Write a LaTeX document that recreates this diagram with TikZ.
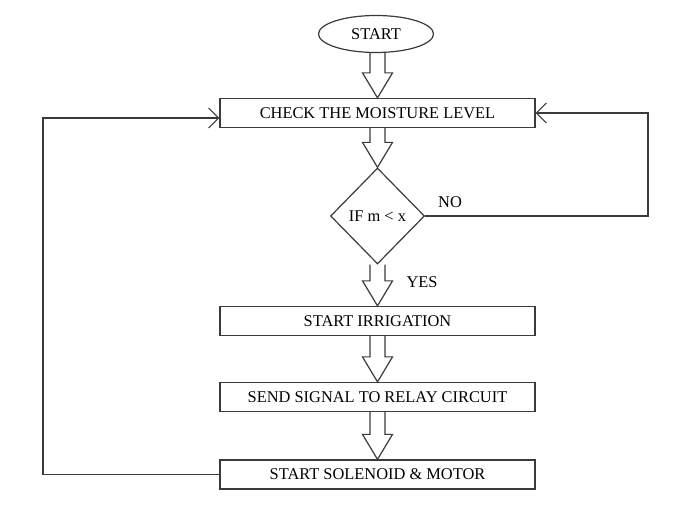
\documentclass[tikz,border=0pt]{standalone}
\usepackage{fontspec}
\setmainfont{Liberation Serif}
\usetikzlibrary{shapes.geometric,arrows.meta,calc}
\definecolor{ln}{HTML}{3A3A3A}
\tikzset{
  line/.style={draw=ln,line width=1.2pt},
  txt/.style={font=\fontsize{16.4}{18}\selectfont},
  box/.style={line,txt,rectangle,minimum width=315pt,minimum height=29pt,inner sep=0pt},
  term/.style={line,txt,ellipse,minimum width=115pt,minimum height=37pt,inner sep=0pt},
  dec/.style={line,txt,diamond,minimum width=94pt,minimum height=96pt,inner sep=0pt},
  lbl/.style={txt,inner sep=0pt},
  barb/.style={-{Straight Barb[length=10pt,width=20pt,line width=1.1pt]}}
}
\newcommand{\blkarr}[2]{%
  \draw[line,line join=miter] let \p1=(#1.south), \p2=(#2.north) in
    (\x2-7.5pt,\y1) -- (\x2-7.5pt,\y2+25pt) -- (\x2-15pt,\y2+25pt) -- (\x2,\y2)
    -- (\x2+15pt,\y2+25pt) -- (\x2+7.5pt,\y2+25pt) -- (\x2+7.5pt,\y1);}
\begin{document}
\begin{tikzpicture}[x=1pt,y=1pt]
\useasboundingbox (0,0) rectangle (697,511);
\node[term] (start) at (376,477) {START};
\node[box] (check) at (377.5,398) {CHECK THE MOISTURE LEVEL};
\node[dec] (cond) at (377.5,295) {IF m < x};
\node[box] (irr) at (377.5,190) {START IRRIGATION};
\node[box] (relay) at (377.5,114) {SEND SIGNAL TO RELAY CIRCUIT};
\node[box] (motor) at (377.5,36.5) {START SOLENOID \& MOTOR};
\node[lbl] (no) at (450,309) {NO};
\node[lbl] (yes) at (422,229) {YES};
\blkarr{start}{check}
\blkarr{check}{cond}
\blkarr{cond}{irr}
\blkarr{irr}{relay}
\blkarr{relay}{motor}
\coordinate (rt) at (648,295);
\coordinate (rb) at (648,398);
\draw[line,barb] (cond.east) -- (rt) -- (rb) -- (check.east);
\coordinate (lin) at ([yshift=-5pt]check.west);
\coordinate (lb) at (43,36.5);
\coordinate (lt) at (43,393);
\draw[line,barb] (motor.west) -- (lb) -- (lt) -- (lin);
\end{tikzpicture}
\end{document}
